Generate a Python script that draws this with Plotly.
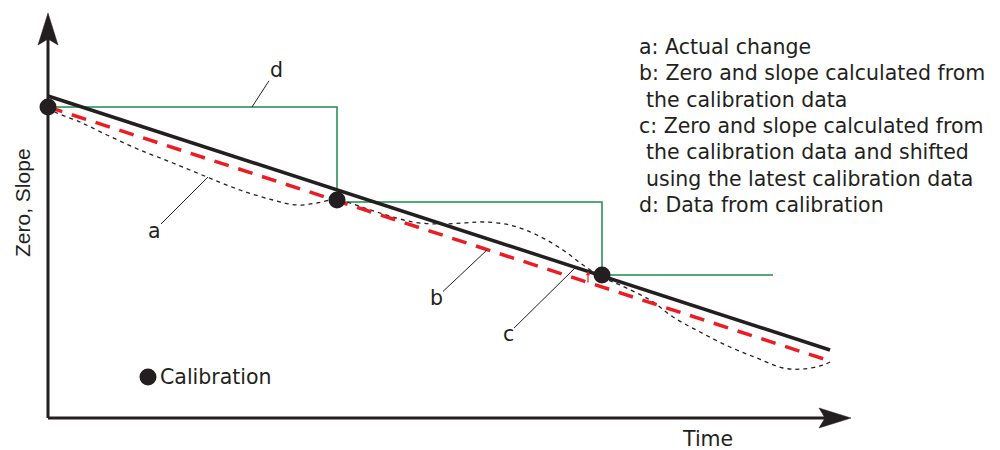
import plotly.graph_objects as go

# chart drawn in a pixel-like coordinate frame (x: 0..1000, y: 0..450 downwards)
calib_t = [48, 337, 602]
calib_v = [107, 200, 275]

# d: data from calibration (held until next calibration)
step_t = [48, 337, 602, 773]
step_v = [107, 202, 275, 275]

# b: zero and slope from calibration data
line_b_t = [48, 830]
line_b_v = [107, 361]

# c: shifted with latest calibration
line_c_t = [48, 830]
line_c_v = [96, 350]

# a: actual change
actual_t = [48, 55, 80, 107, 140, 173, 207, 240, 273, 297, 317, 337, 350, 380, 413,
            440, 463, 483, 510, 537, 563, 583, 602, 620, 650, 673, 700, 730, 757,
            783, 803, 823, 830]
actual_v = [107, 112, 122, 135, 150, 163, 177, 190, 200, 205, 203, 199, 203, 213, 222,
            224, 223, 222, 225, 235, 250, 265, 277, 285, 300, 317, 332, 347, 358,
            368, 369, 365, 362]

legend_lines = [
    "a: Actual change",
    "b: Zero and slope calculated from",
    "the calibration data",
    "c: Zero and slope calculated from",
    "the calibration data and shifted",
    "using the latest calibration data",
    "d: Data from calibration",
]
legend_indent = [0, 0, 1, 0, 1, 1, 0]

INK = "#231f20"
RED = "#ed1c24"
GREEN = "#1e8a4e"
FONT = dict(family="DejaVu Sans, Arial, sans-serif", size=20.5, color=INK)

# the page body has an 8px margin, so the figure starts at (8, 8) in the window
OFF = 8

fig = go.Figure()
fig.add_trace(go.Scatter(x=step_t, y=step_v, mode="lines", line_shape="hv",
                         line=dict(color=GREEN, width=1.5)))
fig.add_trace(go.Scatter(x=actual_t, y=actual_v, mode="lines", line_shape="spline",
                         line=dict(color=INK, width=1.3, dash="4px,4px")))
fig.add_trace(go.Scatter(x=line_b_t, y=line_b_v, mode="lines",
                         line=dict(color=RED, width=3.5, dash="15px,10px")))
fig.add_trace(go.Scatter(x=line_c_t, y=line_c_v, mode="lines",
                         line=dict(color=INK, width=3.5)))
fig.add_trace(go.Scatter(x=calib_t, y=calib_v, mode="markers",
                         marker=dict(color=INK, size=17)))
# legend sample dot
fig.add_trace(go.Scatter(x=[148], y=[377], mode="markers",
                         marker=dict(color=INK, size=17)))

# axes with arrowheads
shapes = [
    dict(type="line", x0=48, y0=418, x1=48, y1=38, line=dict(color=INK, width=3)),
    dict(type="line", x0=48, y0=418, x1=826, y1=418, line=dict(color=INK, width=3)),
    dict(type="path", path="M48,13 L58,45 L48,39 L38,45 Z",
         fillcolor=INK, line=dict(color=INK, width=0.5)),
    dict(type="path", path="M851,418 L819,408 L825,418 L819,428 Z",
         fillcolor=INK, line=dict(color=INK, width=0.5)),
]

annotations = []
# labelled leaders: (label, tip x, tip y, text x, text y)
for lab, x, y, ax, ay in [("d", 252, 107, 276, 70), ("a", 208, 177, 154, 231),
                          ("b", 487, 250, 436, 298), ("c", 575, 268, 508, 334)]:
    annotations.append(dict(x=x, y=y, ax=ax, ay=ay, xref="x", yref="y", axref="x", ayref="y",
                            text=lab, showarrow=True, arrowhead=0, arrowwidth=1,
                            arrowcolor=INK, standoff=0, font=FONT, borderpad=0))
# small shift arrow
annotations.append(dict(x=588, y=271, ax=588, ay=284, xref="x", yref="y", axref="x", ayref="y",
                        text="", showarrow=True, arrowhead=2, arrowsize=0.7, arrowwidth=1.2,
                        arrowcolor=RED, standoff=0))

for i, (txt, ind) in enumerate(zip(legend_lines, legend_indent)):
    annotations.append(dict(x=637 + 7 * ind, y=47 + 26.3 * i, xref="x", yref="y", text=txt,
                            showarrow=False, xanchor="left", yanchor="middle", font=FONT))

annotations += [
    dict(x=158, y=377, xref="x", yref="y", text="Calibration", showarrow=False,
         xanchor="left", yanchor="middle", font=FONT),
    dict(x=707, y=439, xref="x", yref="y", text="Time", showarrow=False,
         xanchor="center", yanchor="middle", font=FONT),
    dict(x=22, y=203, xref="x", yref="y", text="Zero, Slope", showarrow=False, textangle=-90,
         xanchor="center", yanchor="middle",
         font=dict(family="Liberation Sans, Arial, sans-serif", size=21, color=INK)),
]

fig.update_layout(
    width=1000 - OFF, height=450 - OFF,
    margin=dict(l=0, r=0, t=0, b=0),
    paper_bgcolor="white", plot_bgcolor="white",
    showlegend=False,
    xaxis=dict(range=[OFF, 1000], visible=False, fixedrange=True),
    yaxis=dict(range=[450, OFF], visible=False, fixedrange=True),
    shapes=shapes,
    annotations=annotations,
)

fig.write_html("out.html")
